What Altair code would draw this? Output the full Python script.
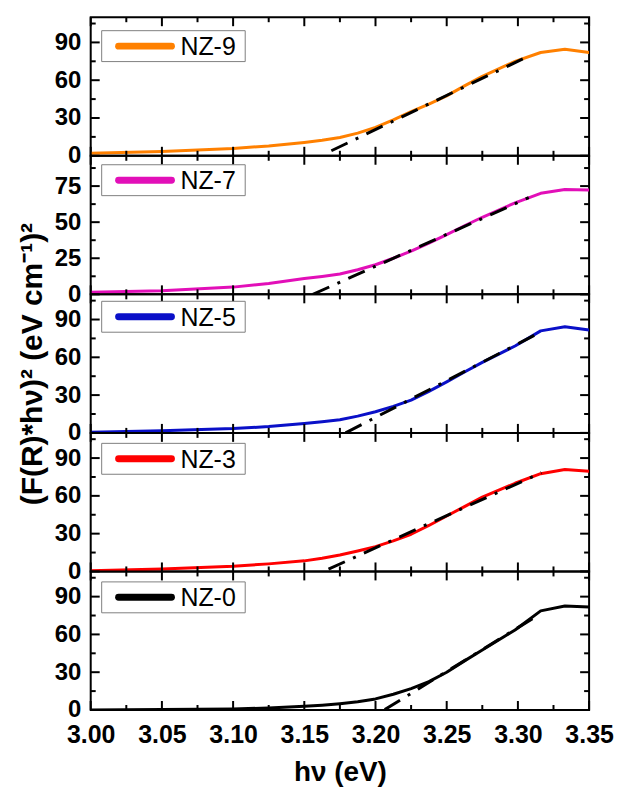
import altair as alt
import pandas as pd

# ---------------- data ----------------
hv = [3.00, 3.05, 3.10, 3.125, 3.15, 3.1625, 3.175, 3.1875, 3.20, 3.2125, 3.225, 3.2375,
      3.25, 3.2625, 3.275, 3.298, 3.316, 3.333, 3.35]

nz9 = [2.1, 3.4, 5.8, 7.8, 10.6, 12.3, 14.5, 18.0, 22.5, 28.5, 35.0, 41.0,
       47.6, 55.5, 63.0, 75.0, 82.0, 84.5, 82.0]
nz7 = [1.5, 2.5, 5.0, 7.5, 10.9, 12.4, 14.1, 17.0, 20.5, 25.0, 30.0, 35.5,
       41.4, 47.5, 53.4, 63.4, 70.0, 72.7, 72.3]
nz5 = [0.5, 1.6, 3.4, 5.0, 7.4, 8.8, 10.5, 13.3, 16.8, 21.0, 26.0, 33.0,
       40.5, 48.3, 56.0, 69.0, 81.0, 84.2, 81.6]
nz3 = [0.5, 2.0, 4.2, 6.0, 8.4, 10.5, 13.0, 16.2, 19.7, 24.3, 29.5, 36.5,
       44.0, 51.5, 59.0, 70.0, 77.6, 81.0, 79.5]
nz0 = [0.0, 0.3, 0.8, 1.6, 2.9, 3.8, 5.0, 6.5, 8.8, 12.5, 17.0, 22.5,
       30.0, 39.0, 47.7, 63.5, 78.7, 82.6, 81.8]

# linear-fit (Tauc) lines: start/end points
fit9_x = [3.169, 3.308]
fit9_y = [4.0, 79.4]
fit7_x = [3.156, 3.3076]
fit7_y = [0.0, 67.0]
fit5_x = [3.179, 3.3165]
fit5_y = [0.0, 80.3]
fit3_x = [3.167, 3.3165]
fit3_y = [1.8, 78.4]
fit0_x = [3.2065, 3.3153]
fit0_y = [0.3, 76.0]

names = ["NZ-9", "NZ-7", "NZ-5", "NZ-3", "NZ-0"]
colors = ["#ff8000", "#e20fb8", "#0a10c8", "#ff0000", "#000000"]
ymaxes = [110, 96, 110, 110, 110]
ymajors = [[0, 30, 60, 90], [0, 25, 50, 75], [0, 30, 60, 90], [0, 30, 60, 90], [0, 30, 60, 90]]
yminors = [[15, 45, 75, 105], [12.5, 37.5, 62.5, 87.5], [15, 45, 75, 105], [15, 45, 75, 105], [15, 45, 75, 105]]
x_major = [3.00, 3.05, 3.10, 3.15, 3.20, 3.25, 3.30, 3.35]
x_minor = [3.025, 3.075, 3.125, 3.175, 3.225, 3.275, 3.325]
legend_cy = [29, 24.5, 22.5, 26, 26]

W, H = 500, 139
FONT = "Liberation Sans"
MAJ, MIN = 9, 5


def panel(i, ys, fx, fy, bottom=False, ytitle=False):
    name, color = names[i], colors[i]
    xs = alt.Scale(domain=[3.0, 3.35], nice=False, zero=False)
    ysc = alt.Scale(domain=[0, ymaxes[i]], nice=False)
    if bottom:
        xax = alt.Axis(values=x_major, format=".2f", ticks=False, tickSize=0, domain=False,
                       grid=False, labelFontSize=25, labelFontWeight="bold", labelFont=FONT,
                       labelColor="black", labelPadding=13, labelFlush=False,
                       title="hν (eV)", titleFontSize=28, titleFont=FONT,
                       titleFontWeight="bold", titleColor="black", titlePadding=11)
    else:
        xax = None
    yax_kw = dict(values=ymajors[i], ticks=False, tickSize=0, domain=False, grid=False,
                  labelFontSize=24, labelFontWeight="bold", labelFont=FONT,
                  labelColor="black", labelPadding=10, labelFlush=False, labelBound=False,
                  labelOverlap=False)
    if ytitle:
        yax = alt.Axis(title="(F(R)*hν)² (eV cm⁻¹)²", titleFontSize=30, titleFont=FONT,
                       titleFontWeight="bold", titleColor="black", titlePadding=7, **yax_kw)
    else:
        yax = alt.Axis(title=None, **yax_kw)
    X = alt.X("x:Q", scale=xs, axis=xax)
    Y = alt.Y("y:Q", scale=ysc, axis=yax)

    df = pd.DataFrame({"x": hv, "y": ys})
    dfit = pd.DataFrame({"x": fx, "y": fy})
    curve = alt.Chart(df).mark_line(color=color, strokeWidth=3, strokeJoin="round",
                                    clip=True).encode(x=X, y=Y)
    fit = alt.Chart(dfit).mark_line(color="black", strokeWidth=3, strokeDash=[18, 9, 3, 9],
                                    clip=True).encode(x=X, y=Y)

    layers = [curve, fit]
    # inward ticks on all four sides
    for vals, ln in ((x_major, MAJ), (x_minor, MIN)):
        d = pd.DataFrame({"x": vals})
        layers.append(alt.Chart(d).mark_rule(color="black", strokeWidth=2).encode(
            x=X, y=alt.value(H), y2=alt.value(H - ln)))
        layers.append(alt.Chart(d).mark_rule(color="black", strokeWidth=2).encode(
            x=X, y=alt.value(0), y2=alt.value(ln)))
    for vals, ln in ((ymajors[i], MAJ), (yminors[i], MIN)):
        d = pd.DataFrame({"y": vals})
        layers.append(alt.Chart(d).mark_rule(color="black", strokeWidth=2).encode(
            y=Y, x=alt.value(0), x2=alt.value(ln)))
        layers.append(alt.Chart(d).mark_rule(color="black", strokeWidth=2).encode(
            y=Y, x=alt.value(W), x2=alt.value(W - ln)))

    # legend box
    cy = legend_cy[i]
    one = pd.DataFrame({"label": [name]})
    layers.append(alt.Chart(one).mark_rect(fill="white", stroke="#808080", strokeWidth=1).encode(
        x=alt.value(11), x2=alt.value(155), y=alt.value(cy - 15.5), y2=alt.value(cy + 15.5)))
    layers.append(alt.Chart(one).mark_rule(color=color, strokeWidth=7, strokeCap="round").encode(
        x=alt.value(28), x2=alt.value(81), y=alt.value(cy), y2=alt.value(cy)))
    layers.append(alt.Chart(one).mark_text(font=FONT, fontSize=25, align="left", baseline="middle",
                                           color="black").encode(
        x=alt.value(90), y=alt.value(cy + 1), text="label:N"))

    return alt.layer(*layers).properties(width=W, height=H)


p9 = panel(0, nz9, fit9_x, fit9_y)
p7 = panel(1, nz7, fit7_x, fit7_y)
p5 = panel(2, nz5, fit5_x, fit5_y, ytitle=True)
p3 = panel(3, nz3, fit3_x, fit3_y)
p0 = panel(4, nz0, fit0_x, fit0_y, bottom=True)

chart = alt.vconcat(p9, p7, p5, p3, p0, spacing=0, bounds="flush").configure_view(
    stroke="black", strokeWidth=2
).properties(
    padding={"left": 16, "top": 14, "right": 5, "bottom": 5},
    background="white",
)

chart.save("out.html", embed_options={"renderer": "svg", "actions": False})
